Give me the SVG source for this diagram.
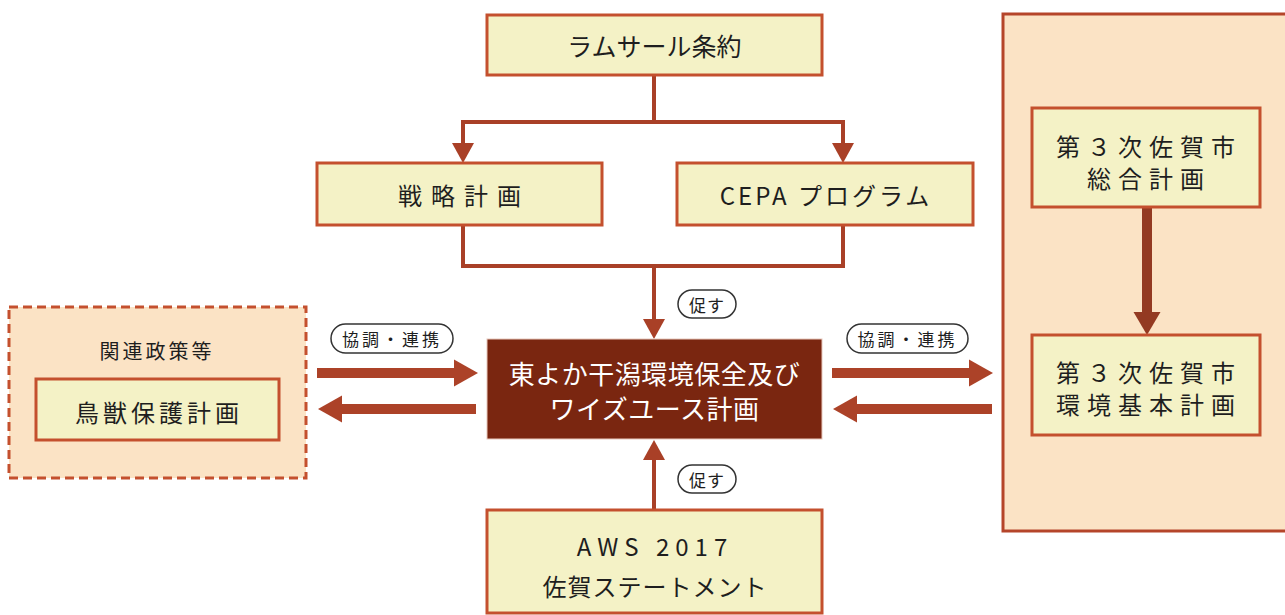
<svg xmlns="http://www.w3.org/2000/svg" width="1285" height="615" viewBox="0 0 1285 615">
<style>
.box{fill:#f4f2c6;stroke:#c4502e;stroke-width:3}
.panel{fill:#fbe3c5;stroke:#b5452a;stroke-width:3}
.dash{fill:#fbe3c5;stroke:#c4502e;stroke-width:3;stroke-dasharray:9,5}
.main{fill:#7a2610;stroke:#e8c8bc;stroke-width:1}
.pill{fill:#ffffff;stroke:#333;stroke-width:1.5}
.t{font-family:"Noto Sans CJK JP","Noto Sans",sans-serif;fill:#1e1e1e;text-anchor:middle;dominant-baseline:central}
.w{fill:#ffffff}
.thin{fill:none;stroke:#a94027;stroke-width:4}
.thick{fill:none;stroke:#ac4228;stroke-width:10}
.vthick{fill:none;stroke:#933a22;stroke-width:10}
</style>
<defs>
<marker id="ah" markerUnits="userSpaceOnUse" markerWidth="20" markerHeight="22" refX="0" refY="11" orient="auto" overflow="visible">
<path d="M0,0 L20,11 L0,22 z" fill="#a94027"/>
</marker>
<marker id="ahT" markerUnits="userSpaceOnUse" markerWidth="24" markerHeight="27" refX="0" refY="13.5" orient="auto" overflow="visible">
<path d="M0,0 L24,13.5 L0,27 z" fill="#ac4228"/>
</marker>
<marker id="ahV" markerUnits="userSpaceOnUse" markerWidth="23" markerHeight="27" refX="0" refY="13.5" orient="auto" overflow="visible">
<path d="M0,0 L23,13.5 L0,27 z" fill="#933a22"/>
</marker>
</defs>
<rect width="1285" height="615" fill="#ffffff"/>

<g id="panel-right">
<rect class="panel" x="1003" y="14" width="290" height="517"/>
</g>
<g id="panel-left">
<rect class="dash" x="9" y="307" width="297" height="171"/>
<text class="t" x="157" y="350" font-size="20" letter-spacing="3">関連政策等</text>
</g>

<g id="connectors">
<path class="thin" d="M654,75 V122"/>
<path class="thin" d="M656,122 H463 V143" marker-end="url(#ah)"/>
<path class="thin" d="M652,122 H843 V143" marker-end="url(#ah)"/>
<path class="thin" d="M463,225 V266 H843 V225"/>
<path class="thin" d="M654,266 V319" marker-end="url(#ah)"/>
<path class="thin" d="M654,510 V460" marker-end="url(#ah)"/>
<path class="thick" d="M317,373 H454" marker-end="url(#ahT)"/>
<path class="thick" d="M476,409 H342" marker-end="url(#ahT)"/>
<path class="thick" d="M832,373 H969" marker-end="url(#ahT)"/>
<path class="thick" d="M992,409 H857" marker-end="url(#ahT)"/>
<path class="vthick" d="M1147,208 V312" marker-end="url(#ahV)"/>
<g id="label-promote-top">
<rect class="pill" x="678" y="290" width="58" height="28" rx="14"/>
<text class="t" x="707" y="304" font-size="17" letter-spacing="1">促す</text>
</g>
<g id="label-promote-bottom">
<rect class="pill" x="678" y="465" width="58" height="28" rx="14"/>
<text class="t" x="707" y="479" font-size="17" letter-spacing="1">促す</text>
</g>
<g id="label-coop-left">
<rect class="pill" x="331" y="324" width="122" height="29" rx="14.5"/>
<text class="t" x="392" y="338.5" font-size="17" letter-spacing="3">協調・連携</text>
</g>
<g id="label-coop-right">
<rect class="pill" x="847" y="324" width="121" height="29" rx="14.5"/>
<text class="t" x="907.5" y="338.5" font-size="17" letter-spacing="3">協調・連携</text>
</g>
</g>

<g id="ramsar">
<rect class="box" x="487" y="15" width="335" height="60"/>
<text class="t" x="654.5" y="45" font-size="25">ラムサール条約</text>
</g>
<g id="strategy">
<rect class="box" x="317" y="163" width="285" height="62"/>
<text class="t" x="464" y="194" font-size="24" letter-spacing="9">戦略計画</text>
</g>
<g id="cepa">
<rect class="box" x="677" y="163" width="296" height="62"/>
<text class="t" x="826" y="194" font-size="24" letter-spacing="3">CEPA プログラム</text>
</g>
<g id="main">
<rect class="main" x="487" y="339" width="335" height="100"/>
<text class="t w" x="654.5" y="372" font-size="26" letter-spacing="0.5">東よか干潟環境保全及び</text>
<text class="t w" x="654.5" y="407" font-size="26" letter-spacing="0.5">ワイズユース計画</text>
</g>
<g id="aws">
<rect class="box" x="487" y="510" width="335" height="103"/>
<text class="t" x="655" y="545" font-size="24" letter-spacing="6">AWS 2017</text>
<text class="t" x="655" y="585" font-size="24" letter-spacing="1">佐賀ステートメント</text>
</g>
<g id="birds">
<rect class="box" x="36" y="379" width="243" height="61"/>
<text class="t" x="159" y="411" font-size="24" letter-spacing="4">鳥獣保護計画</text>
</g>
<g id="saga-general">
<rect class="box" x="1032" y="108" width="228" height="99"/>
<text class="t" x="1149" y="145" font-size="24" letter-spacing="7">第３次佐賀市</text>
<text class="t" x="1149" y="177" font-size="24" letter-spacing="7">総合計画</text>
</g>
<g id="saga-env">
<rect class="box" x="1032" y="335" width="228" height="100"/>
<text class="t" x="1149" y="371" font-size="24" letter-spacing="7">第３次佐賀市</text>
<text class="t" x="1149" y="403" font-size="24" letter-spacing="7">環境基本計画</text>
</g>
</svg>
